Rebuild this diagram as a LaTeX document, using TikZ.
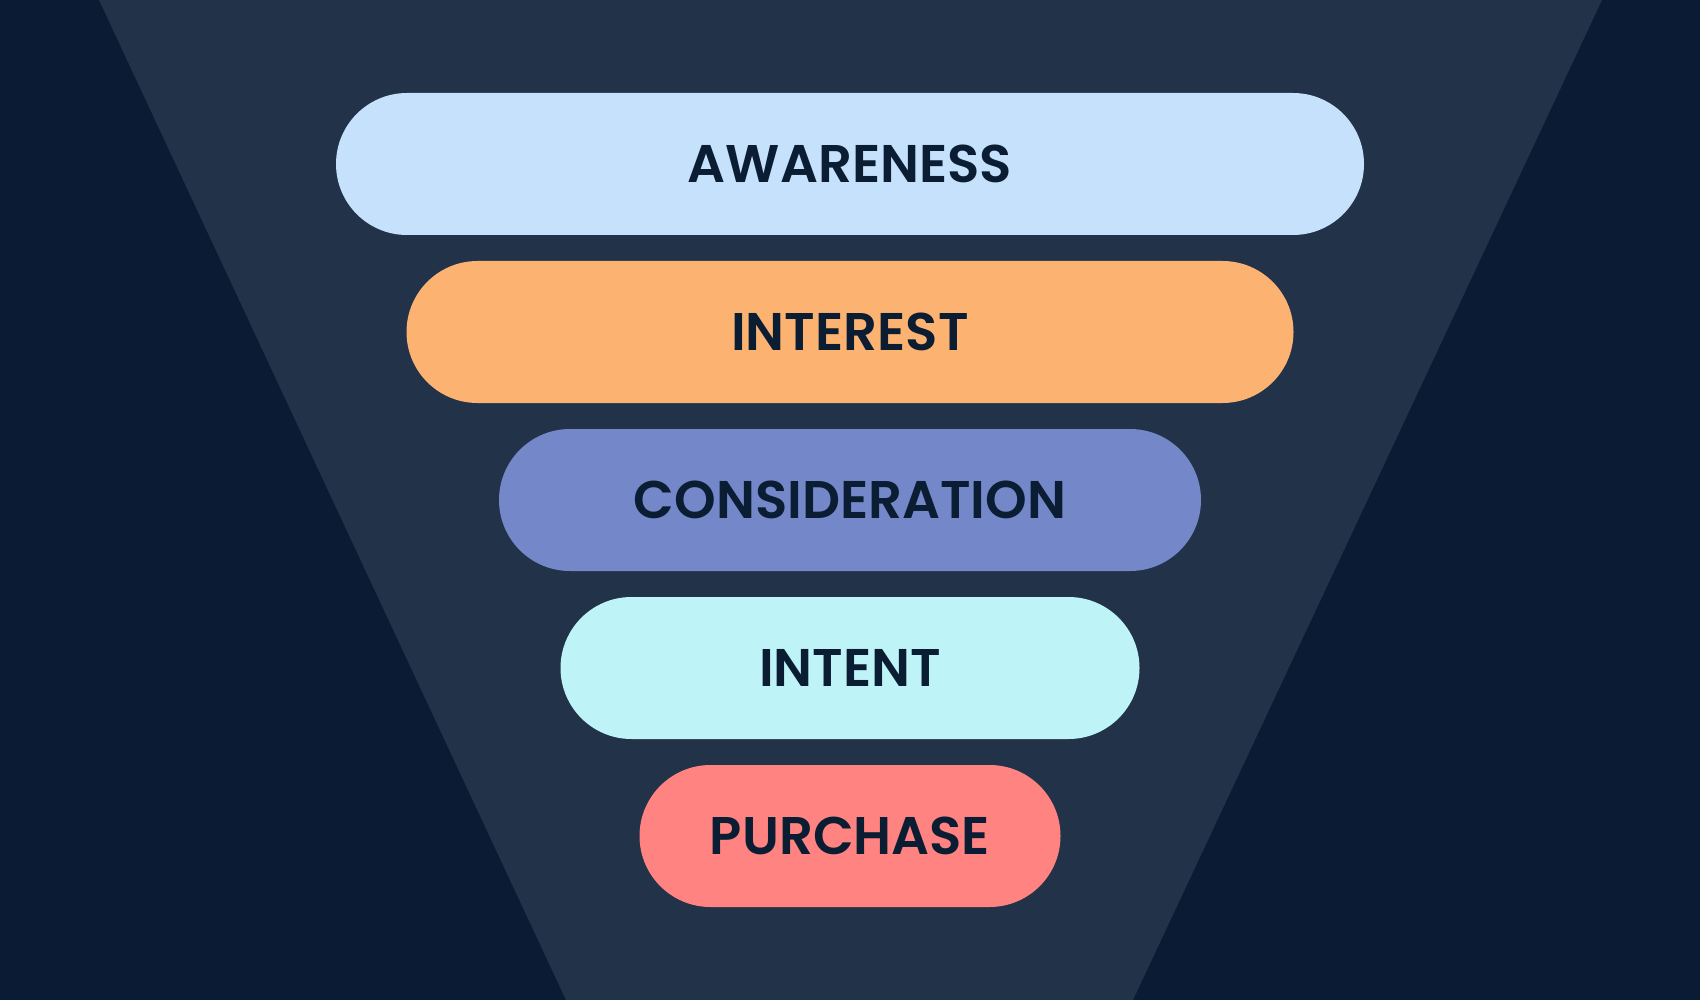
\documentclass[tikz,border=0pt]{standalone}
\usepackage{fontspec}
\setmainfont{Poppins}[BoldFont={Poppins SemiBold}]
\usetikzlibrary{shapes.misc}
\definecolor{bgnavy}{HTML}{0A1B33}
\definecolor{funnelc}{HTML}{213249}
\definecolor{txtc}{HTML}{0B1D33}
\definecolor{cAw}{HTML}{C5E1FC}
\definecolor{cIn}{HTML}{FCB371}
\definecolor{cCo}{HTML}{7387C9}
\definecolor{cIt}{HTML}{BEF4F7}
\definecolor{cPu}{HTML}{FF8380}
\tikzset{
  pill/.style={rounded rectangle, inner sep=0pt, minimum height=142pt,
    text=txtc, font=\fontsize{53}{60}\selectfont\bfseries}
}
\begin{document}
\begin{tikzpicture}[x=1pt,y=-1pt]
\useasboundingbox (0,0) rectangle (1700,1000);
\fill[bgnavy] (0,0) rectangle (1700,1000);
\fill[funnelc] (99,0) -- (1602,0) -- (1133,1000) -- (566,1000) -- cycle;
\node[pill, fill=cAw, minimum width=1028pt] (aw) at (850,164) {AWARENESS};
\node[pill, fill=cIn, minimum width=887pt] (in) at (850,332) {INTEREST};
\node[pill, fill=cCo, minimum width=702pt] (co) at (850,500) {CONSIDERATION};
\node[pill, fill=cIt, minimum width=579pt] (it) at (850,668) {INTENT};
\node[pill, fill=cPu, minimum width=421pt] (pu) at (850,836) {PURCHASE};
\end{tikzpicture}
\end{document}
